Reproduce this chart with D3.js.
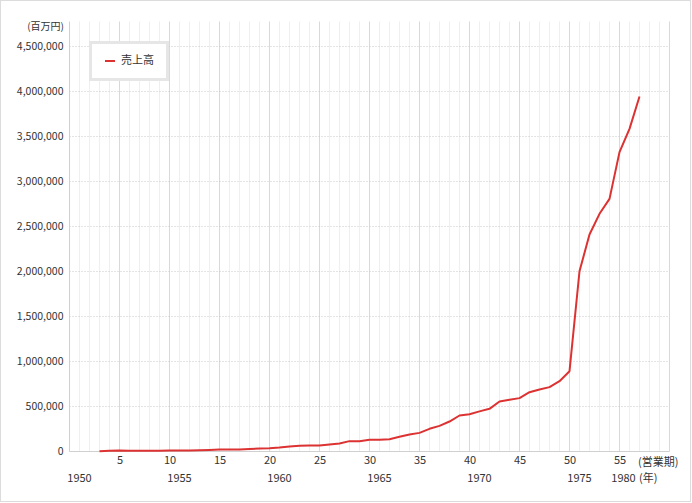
<!DOCTYPE html>
<html><head><meta charset="utf-8">
<script src="https://cdn.jsdelivr.net/npm/d3@7"></script>
<style>
html,body{margin:0;padding:0;background:#fff;}
svg text{font-family:"Noto Sans CJK JP","Noto Sans",sans-serif;fill:#333;}
</style></head>
<body><svg id="c" width="692" height="503"></svg>
<script>
const periods = [3,4,5,6,7,8,9,10,11,12,13,14,15,16,17,18,19,20,21,22,23,24,25,26,27,28,29,30,31,32,33,34,35,36,37,38,39,40,41,42,43,44,45,46,47,48,49,50,51,52,53,54,55,56,57];
const sales = [3000,8000,10000,9000,9000,9000,9000,10000,10000,12000,15000,18000,22000,22000,23000,28000,33000,37000,45000,56000,63000,67000,67000,78000,89000,115000,115000,130000,130000,137000,163000,189000,207000,252000,285000,333000,400000,414000,446000,474000,556000,574000,593000,659000,689000,715000,781000,892000,2003000,2411000,2641000,2807000,3326000,3585000,3944000];
const periodTicks = [5,10,15,20,25,30,35,40,45,50,55];
const yearPeriods = [1,11,21,31,41,51,55.4];
const yearLabels = ["1950","1955","1960","1965","1970","1975","1980"];
const yTicks = [0,500000,1000000,1500000,2000000,2500000,3000000,3500000,4000000,4500000];
const seriesName = "売上高";

const svg = d3.select("#c");
const x = d3.scaleLinear().domain([0,60]).range([69.5,669.5]);
const y = d3.scaleLinear().domain([0,4500000]).range([451.5,46.5]);
const topY = 21.5;

// outer frame
svg.append("rect").attr("x",0.5).attr("y",0.5).attr("width",690).attr("height",501)
  .attr("fill","#fff").attr("stroke","#dcdcdc");

// vertical grid
svg.append("g").selectAll("line").data(d3.range(1,61)).join("line")
  .attr("x1",d=>x(d)).attr("x2",d=>x(d)).attr("y1",topY).attr("y2",y(0))
  .attr("stroke",d=>d%5===0?"#d9d9d9":"#efefef").attr("stroke-width",1);

// horizontal grid dotted
svg.append("g").selectAll("line").data(yTicks.filter(d=>d>0)).join("line")
  .attr("x1",x(0)).attr("x2",x(60)).attr("y1",d=>y(d)).attr("y2",d=>y(d))
  .attr("stroke","#c8c8c8").attr("stroke-dasharray","1,2");

// axes lines
svg.append("line").attr("x1",x(0)).attr("x2",x(0)).attr("y1",topY).attr("y2",y(0)).attr("stroke","#d0d0d0");
svg.append("line").attr("x1",x(0)).attr("x2",x(60)).attr("y1",y(0)).attr("y2",y(0)).attr("stroke","#d0d0d0");

// y axis labels
const yAxis = d3.axisLeft(y).tickValues(yTicks).tickSize(0).tickPadding(6).tickFormat(d3.format(","));
const ya = svg.append("g").attr("transform",`translate(${x(0)},0)`).call(yAxis);
ya.select(".domain").remove();
ya.selectAll("text").style("font-size","10.5px").attr("fill","#333").style("font-family","'Noto Sans CJK JP',sans-serif");

svg.append("text").attr("x",64).attr("y",27).attr("text-anchor","end").attr("dominant-baseline","middle")
  .style("font-size","10px").text("(百万円)");

// x axis period labels
const xAxis = d3.axisBottom(x).tickValues(periodTicks).tickSize(0).tickPadding(5).tickFormat(d=>d);
const xa = svg.append("g").attr("transform",`translate(0,${y(0)})`).call(xAxis);
xa.select(".domain").remove();
xa.selectAll("text").style("font-size","11px").attr("fill","#333").style("font-family","'Noto Sans CJK JP',sans-serif");
svg.append("text").attr("x",638).attr("y",465.5).style("font-size","11px").text("(営業期)");

// year labels
svg.append("g").selectAll("text").data(yearPeriods).join("text")
  .attr("x",d=>x(d)).attr("y",482).attr("text-anchor","middle")
  .style("font-size","11px").text((d,i)=>yearLabels[i]);
svg.append("text").attr("x",639).attr("y",482).style("font-size","11px").text("(年)");

// line
const line = d3.line().x((d,i)=>x(periods[i])).y(d=>y(d));
svg.append("path").datum(sales).attr("d",line).attr("fill","none")
  .attr("stroke","#dc3232").attr("stroke-width",2).attr("stroke-linejoin","round");

// legend
svg.append("rect").attr("x",90.5).attr("y",42.5).attr("width",77).attr("height",37)
  .attr("fill","#fff").attr("stroke","#e6e6e6").attr("stroke-width",3);
svg.append("line").attr("x1",105).attr("x2",115).attr("y1",61).attr("y2",61).attr("stroke","#dc3232").attr("stroke-width",2);
svg.append("text").attr("x",121).attr("y",61).attr("dominant-baseline","middle").style("font-size","11px").text(seriesName);
</script></body></html>
